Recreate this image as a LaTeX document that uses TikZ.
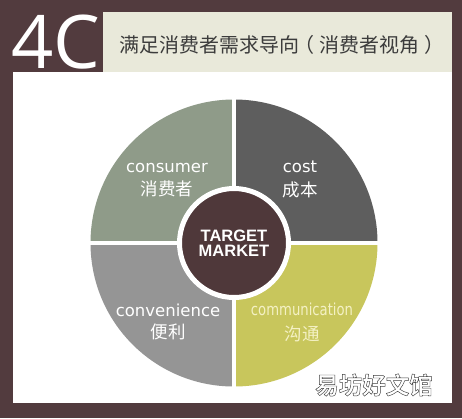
\documentclass[tikz,border=0pt]{standalone}
\usepackage{fontspec}
\usepackage{graphicx}
\setmainfont{DejaVu Sans}
\newfontfamily\cjkf{Noto Sans CJK SC}
\newfontfamily\cjkbf{Noto Sans CJK SC Bold}
\newfontfamily\opensansf{Open Sans}
\newfontfamily\arialf{Liberation Sans}
\definecolor{bgbrown}{HTML}{523B3E}
\definecolor{beigec}{HTML}{E9E9DA}
\definecolor{hdrc}{HTML}{3C3C3C}
\definecolor{tlc}{HTML}{8F9B89}
\definecolor{trc}{HTML}{5E5E5E}
\definecolor{blc}{HTML}{959595}
\definecolor{brc}{HTML}{C8C65C}
\definecolor{centerc}{HTML}{4F383A}
\definecolor{commc}{HTML}{F4F1C4}
\newcommand{\outlinetext}[1]{\special{pdf:literal direct 0.25 G 0.45 w 2 Tr}#1\special{pdf:literal direct 0 Tr}}
\begin{document}
\begin{tikzpicture}[x=1pt,y=-1pt,
  entext/.style={inner sep=0, anchor=base, text=white, font=\fontsize{16.5}{18}\selectfont},
  zhtext/.style={inner sep=0, text=white, font=\cjkf\fontsize{17.5}{19}\selectfont},
  sep/.style={white, line width=4}]
\useasboundingbox (0,0) rectangle (462,418);
\fill[bgbrown] (0,0) rectangle (462,418);
\fill[beigec] (103,12) rectangle (452,72);
\fill[white] (13,72) rectangle (452,403);
\node[anchor=base west, inner sep=0, text=white, font=\opensansf\fontsize{74}{74}\selectfont] (fourc) at (11,68) {4C};
\node[anchor=west, inner sep=0, text=hdrc, font=\cjkf\fontsize{20}{21}\selectfont] (title) at (119,45) {满足消费者需求导向\kern-5pt（\kern5pt消费者视角\kern5pt）};
% quadrants
\coordinate (c) at (234,243);
\fill[tlc] (c) -- ++(180:143.5) arc[start angle=180, end angle=270, radius=143.5] -- cycle;
\fill[trc] (c) -- ++(270:143.5) arc[start angle=270, end angle=360, radius=143.5] -- cycle;
\fill[brc] (c) -- ++(0:143.5) arc[start angle=0, end angle=90, radius=143.5] -- cycle;
\fill[blc] (c) -- ++(90:143.5) arc[start angle=90, end angle=180, radius=143.5] -- cycle;
\draw[sep] (234,95) -- (234,392);
\draw[sep] (86,243) -- (382,243);
\node[circle, fill=centerc, draw=white, line width=5, minimum size=109, inner sep=0, text=white, align=center, font=\arialf\bfseries\fontsize{16.5}{20.5}\selectfont] (tm) at (c) {\raisebox{-4pt}{\shortstack{TARGET\\[1pt]MARKET}}};
% labels
\node[entext] (consumer) at (167,172) {consumer};
\node[zhtext] (consumerzh) at (167,189) {消费者};
\node[entext] (cost) at (300,172) {cost};
\node[zhtext] (costzh) at (300,190) {成本};
\node[entext] (conv) at (168,316) {convenience};
\node[zhtext] (convzh) at (168,332) {便利};
\node[entext, text=commc] (comm) at (302,315) {\scalebox{0.8}[1]{communication}};
\node[zhtext, text=commc] (commzh) at (302,334) {沟通};
% watermark
\node[inner sep=0, text=white, font=\cjkbf\fontsize{23.5}{24}\selectfont] (wm) at (374,385) {\outlinetext{易坊好文馆}};
\end{tikzpicture}
\end{document}
